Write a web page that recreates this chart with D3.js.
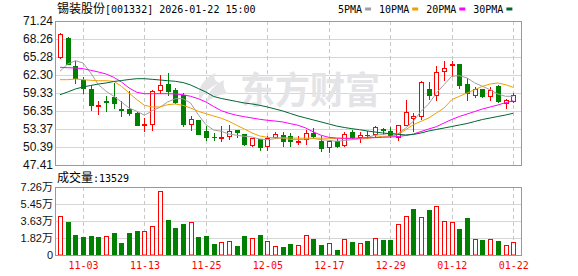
<!DOCTYPE html>
<html>
<head>
<meta charset="utf-8">
<script src="https://cdn.jsdelivr.net/npm/d3@7"></script>
<style>
  html, body { margin: 0; padding: 0; background: #fff; }
  svg { display: block; }
</style>
</head>
<body>
<svg id="chart" width="578" height="276"></svg>
<script>
// 锡装股份 daily K-line, 2025-10-29 .. 2026-01-22
const dates = ['10-29','10-30','10-31','11-03','11-04','11-05','11-06','11-07','11-10','11-11',
  '11-12','11-13','11-14','11-17','11-18','11-19','11-20','11-21','11-24','11-25',
  '11-26','11-27','11-28','12-01','12-02','12-03','12-04','12-05','12-08','12-09',
  '12-10','12-11','12-12','12-15','12-16','12-17','12-18','12-19','12-22','12-23',
  '12-24','12-25','12-26','12-29','12-30','12-31','01-05','01-06','01-07','01-08',
  '01-09','01-12','01-13','01-14','01-15','01-16','01-19','01-20','01-21','01-22'];

const open  = [65.33,68.43,63.74,61.53,60.04,57.20,58.00,58.61,56.60,56.73,
  56.02,54.00,54.25,59.82,60.81,59.82,59.04,54.25,54.86,53.09,
  52.05,51.95,52.16,53.16,52.54,50.67,51.71,50.50,52.10,52.43,
  52.16,51.25,51.71,52.71,51.33,50.39,51.33,50.67,52.88,52.00,
  52.35,52.54,53.30,53.09,52.05,54.08,55.14,55.47,59.99,59.04,
  63.02,64.00,64.12,60.81,59.04,59.99,58.79,60.54,57.67,58.05];
const high  = [69.25,68.60,64.57,61.92,60.70,57.95,58.78,60.98,57.95,59.61,
  56.10,55.19,59.77,62.35,62.63,60.10,59.30,55.47,54.90,53.82,
  52.71,53.82,54.08,53.20,52.60,51.90,51.75,52.26,52.80,52.82,
  52.70,52.20,53.25,53.50,52.16,51.60,51.70,52.80,53.25,52.82,
  53.10,53.90,53.50,53.65,54.08,58.22,56.00,61.30,61.10,63.74,
  64.57,64.67,64.20,61.80,60.40,60.00,60.40,60.60,58.40,59.30];
const low   = [65.10,64.10,60.98,59.33,56.56,55.90,56.30,56.86,55.47,55.64,
  54.00,52.99,53.25,59.32,59.05,57.60,53.90,53.25,52.50,51.60,
  51.60,51.43,51.71,51.99,50.67,50.60,49.84,49.94,51.80,50.50,
  50.50,50.90,50.94,51.88,49.70,49.50,50.40,50.60,51.80,51.16,
  51.90,51.99,52.50,51.99,51.48,54.00,53.00,55.10,58.38,58.22,
  61.53,62.09,60.20,58.22,58.70,58.70,58.20,57.80,56.80,57.90];
const close = [69.09,64.18,61.81,60.15,57.39,57.30,57.90,57.60,56.51,56.01,
  54.08,54.15,59.60,60.60,59.60,57.84,54.20,54.97,52.60,52.04,
  51.99,52.10,53.00,52.83,50.94,51.88,50.39,51.88,52.54,51.33,
  51.30,51.40,52.71,52.16,50.22,51.33,50.50,52.54,52.00,52.43,
  52.30,53.65,53.25,52.32,53.98,56.18,55.57,61.15,59.04,62.75,
  63.46,64.20,60.60,59.33,59.99,58.88,59.88,57.98,58.10,58.95];
const volume = [41600,35600,21400,19200,20300,19200,20000,23500,12800,23500,
  25600,25600,30600,68000,37400,28800,33100,35200,19200,20300,
  11700,13900,14900,9600,20300,17800,21000,14900,9300,8500,
  11700,10300,21000,17100,10700,12800,5300,17100,13900,12800,
  14900,18100,16000,16000,33100,41600,49100,40600,48000,52300,
  36300,35200,27800,39500,17100,16000,17100,14900,10700,13529];

const ma5  = [62.92,64.12,64.67,64.29,62.64,60.70,59.61,58.78,57.84,56.84,
  56.30,55.64,56.40,56.96,57.84,58.38,58.38,57.67,55.73,54.08,
  53.20,52.99,52.54,52.33,52.16,52.04,51.71,51.60,51.76,51.88,
  51.63,51.60,51.71,51.80,51.60,51.50,51.33,51.46,51.60,51.80,
  51.99,52.33,52.46,52.66,52.54,53.53,54.64,56.30,57.51,59.33,
  60.70,62.09,62.19,61.81,60.98,60.43,59.87,59.16,58.78,58.78];
const ma10 = [61.53,61.53,61.64,61.53,61.43,61.36,61.36,61.26,60.43,59.33,
  58.22,57.29,57.01,57.01,57.39,57.51,57.29,56.84,56.30,55.90,
  55.52,55.14,54.64,53.98,53.37,52.71,52.21,51.99,51.90,51.90,
  51.88,51.85,51.85,51.85,51.85,51.83,51.77,51.77,51.71,51.71,
  51.80,51.99,52.16,52.16,52.42,53.25,54.08,54.64,55.19,56.02,
  56.84,58.22,58.78,59.33,59.87,60.43,60.81,60.98,60.70,60.27];
const ma20 = [63.58,63.51,63.46,63.35,63.08,62.80,62.47,61.92,61.15,60.15,
  59.44,59.21,59.21,59.21,59.21,59.16,59.04,58.78,58.38,57.84,
  57.09,56.40,55.97,55.64,55.40,55.19,54.97,54.81,54.69,54.53,
  54.25,53.98,53.53,52.87,52.33,51.99,51.88,51.83,51.83,51.88,
  51.93,51.93,51.99,52.04,52.13,52.29,52.54,52.95,53.37,53.75,
  54.36,54.94,55.44,55.85,56.26,56.68,57.01,57.34,57.72,58.05];
const ma30 = [59.04,59.49,59.99,60.32,60.57,60.81,60.98,61.23,61.39,61.56,
  61.69,61.69,61.59,61.48,61.36,61.26,61.06,60.65,60.07,59.49,
  58.75,58.42,58.17,57.92,57.67,57.51,57.29,57.01,56.68,56.35,
  55.93,55.52,55.19,54.86,54.53,54.20,53.86,53.62,53.42,53.25,
  53.04,52.87,52.71,52.59,52.49,52.38,52.46,52.71,53.04,53.29,
  53.53,53.78,54.03,54.28,54.61,54.94,55.19,55.44,55.68,55.97];

const priceTicks = [47.41, 50.39, 53.37, 56.35, 59.33, 62.30, 65.28, 68.26, 71.24];
const volTicks = [0, 18150, 36300, 54450, 72600];
const volTickLabels = ['0', '1.82万', '3.63万', '5.45万', '7.26万'];
const dateTicks = ['11-03','11-13','11-25','12-05','12-17','12-29','01-12','01-22'];
const maNames = ['5PMA', '10PMA', '20PMA', '30PMA'];

const UP = '#ff0000', DOWN = '#008000';
const maColors = ['#a0a0a0', '#f0a000', '#ff00ff', '#006633'];
const MONO = '"DejaVu Sans Mono", monospace';
const CJK = '"Noto Sans CJK SC", sans-serif';
const SANS = '"Liberation Sans", Arial, sans-serif';

const svg = d3.select('#chart');

// panels
const L = 55, R = 522;
const pTop = 21, pBot = 165;
const vTop = 187, vBot = 255;

const x = d3.scalePoint().domain(dates).range([60, 513.2]);
const y = d3.scaleLinear().domain([47.41, 71.24]).range([pBot, pTop]);
const yv = d3.scaleLinear().domain([0, 72600]).range([vBot, vTop]);
const px = d => Math.round(x(d)); // crisp pixel column

// horizontal grid
svg.append('g').selectAll('line').data(priceTicks.slice(1, -1)).join('line')
  .attr('x1', L).attr('x2', R)
  .attr('y1', d => Math.round(y(d)) + 0.5).attr('y2', d => Math.round(y(d)) + 0.5)
  .attr('stroke', '#d6d6d6');
svg.append('g').selectAll('line').data(volTicks.slice(1, -1)).join('line')
  .attr('x1', L).attr('x2', R)
  .attr('y1', d => Math.round(yv(d)) + 0.5).attr('y2', d => Math.round(yv(d)) + 0.5)
  .attr('stroke', '#d6d6d6');

// vertical dashed grid at the labelled dates
[[pTop, pBot], [vTop, vBot]].forEach(([t, b]) => {
  svg.append('g').selectAll('line').data(dateTicks).join('line')
    .attr('x1', d => px(d) + 0.5).attr('x2', d => px(d) + 0.5)
    .attr('y1', t).attr('y2', b)
    .attr('stroke', '#c8c8c8').attr('stroke-dasharray', '4,3');
});

// watermark
const wm = svg.append('g').attr('fill', '#e4e4e7');
wm.append('path')
  .attr('d', 'M216,73 C203,78 196,90 200,101 C204,92 211,86 220,83 C214,81 213,77 216,73 Z M224,80 C214,85 207,93 207,102 C214,96 221,94 228,94 C224,90 223,85 224,80 Z');
wm.append('text')
  .attr('x', 240).attr('y', 104)
  .attr('font-family', CJK).attr('font-weight', 700).attr('font-size', 37)
  .attr('textLength', 140).attr('lengthAdjust', 'spacingAndGlyphs')
  .text('东方财富');

// candles
const idx = d3.range(dates.length);
const candles = svg.append('g').selectAll('g').data(idx).join('g');
candles.append('line')
  .attr('x1', i => px(dates[i]) + 0.5).attr('x2', i => px(dates[i]) + 0.5)
  .attr('y1', i => Math.round(y(high[i]))).attr('y2', i => Math.round(y(low[i])) + 1)
  .attr('stroke', i => close[i] >= open[i] ? UP : DOWN);
candles.each(function(i) {
  const g = d3.select(this);
  const up = close[i] >= open[i];
  const top = Math.round(y(Math.max(open[i], close[i])));
  const bot = Math.round(y(Math.min(open[i], close[i])));
  const cx = px(dates[i]);
  if (up) {
    g.append('rect')
      .attr('x', cx - 1.5).attr('y', top + 0.5)
      .attr('width', 4).attr('height', Math.max(1, bot - top))
      .attr('fill', '#fff').attr('stroke', UP);
  } else {
    g.append('rect')
      .attr('x', cx - 2).attr('y', top)
      .attr('width', 5).attr('height', Math.max(1, bot - top + 1))
      .attr('fill', DOWN);
  }
});

// moving averages
[ma5, ma10, ma20, ma30].forEach((s, k) => {
  svg.append('path')
    .datum(s)
    .attr('fill', 'none')
    .attr('stroke', maColors[k])
    .attr('stroke-width', 1)
    .attr('d', d3.line().x((d, i) => x(dates[i])).y(d => y(d)));
});

// volume bars: colour follows close vs previous close
const volUp = i => close[i] >= (i ? close[i - 1] : open[i]);
svg.append('g').selectAll('rect').data(idx).join('rect')
  .attr('x', i => volUp(i) ? px(dates[i]) - 1.5 : px(dates[i]) - 2)
  .attr('y', i => Math.round(yv(volume[i])) + (volUp(i) ? 0.5 : 0))
  .attr('width', i => volUp(i) ? 4 : 5)
  .attr('height', i => vBot - Math.round(yv(volume[i])) - (volUp(i) ? 0.5 : 0))
  .attr('fill', i => volUp(i) ? '#fff' : DOWN)
  .attr('stroke', i => volUp(i) ? UP : 'none');

// frames
[[pTop, pBot], [vTop, vBot]].forEach(([t, b]) => {
  svg.append('rect')
    .attr('x', L + 0.5).attr('y', t + 0.5)
    .attr('width', R - L - 1).attr('height', b - t)
    .attr('fill', 'none').attr('stroke', '#999');
});

// y axes
svg.append('g').attr('transform', `translate(${L},0)`)
  .call(d3.axisLeft(y).tickValues(priceTicks).tickFormat(d3.format('.2f')).tickSize(0).tickPadding(2))
  .call(g => g.select('.domain').remove())
  .call(g => g.selectAll('text').attr('font-family', SANS).attr('font-size', 12).attr('fill', '#111'));

svg.append('g').attr('transform', `translate(${L},0)`)
  .call(d3.axisLeft(yv).tickValues(volTicks).tickFormat((d, i) => volTickLabels[i]).tickSize(0).tickPadding(2))
  .call(g => g.select('.domain').remove())
  .call(g => g.selectAll('text').attr('font-family', SANS + ',' + CJK).attr('font-size', 11).attr('fill', '#111'));

// x axis (dates, red)
svg.append('g').attr('transform', `translate(0,${vBot})`)
  .call(d3.axisBottom(x).tickValues(dateTicks).tickSize(0).tickPadding(7))
  .call(g => g.select('.domain').remove())
  .call(g => g.selectAll('text').attr('font-family', MONO).attr('font-size', 10).attr('fill', UP));

// title
const title = svg.append('text').attr('x', 57).attr('y', 12.5).attr('fill', '#000');
title.append('tspan').attr('font-family', CJK).attr('font-size', 12).text('锡装股份');
title.append('tspan').attr('font-family', MONO).attr('font-size', 10).text('[001332] 2026-01-22 15:00');

// legend
let lx = 338;
maNames.forEach((name, k) => {
  svg.append('text').attr('x', lx).attr('y', 12.5)
    .attr('font-family', MONO).attr('font-size', 10).attr('fill', '#000').text(name);
  lx += name.length * 6.02 + 3;
  svg.append('rect').attr('x', lx).attr('y', 7.5).attr('width', 6).attr('height', 3).attr('fill', maColors[k]);
  lx += 6 + 8;
});

// volume caption
const cap = svg.append('text').attr('x', 57).attr('y', 182).attr('fill', '#000');
cap.append('tspan').attr('font-family', CJK).attr('font-size', 12).text('成交量');
cap.append('tspan').attr('font-family', MONO).attr('font-size', 10).text(':' + volume[volume.length - 1]);
</script>
</body>
</html>
